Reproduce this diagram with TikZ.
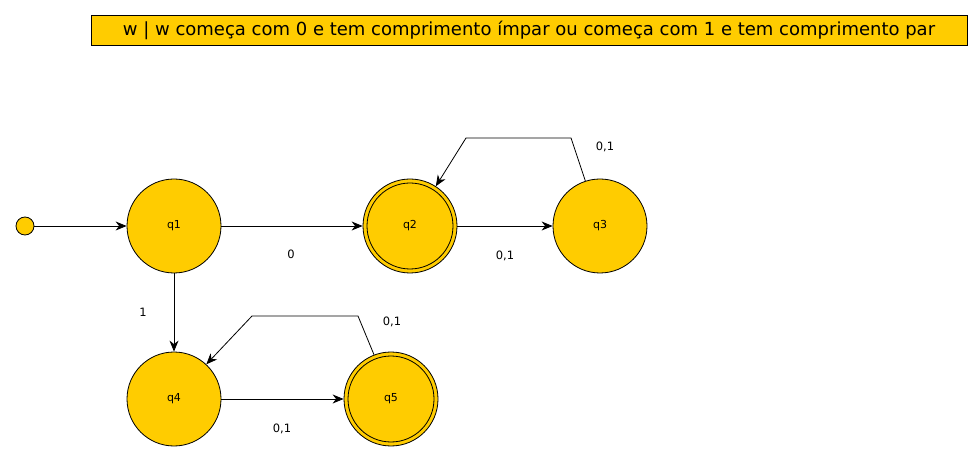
\documentclass[tikz,border=0pt]{standalone}
\usepackage{fontspec}
\setmainfont{DejaVu Sans}
\usetikzlibrary{arrows.meta}
\definecolor{gold}{HTML}{FFCC00}
\tikzset{
  state/.style={circle, draw=black, fill=gold, line width=0.8pt, minimum size=94pt, inner sep=0pt, font=\fontsize{11}{13}\selectfont},
  edge/.style={draw=black, line width=0.8pt, -{Stealth[length=11pt,width=9pt,inset=3.5pt]}},
  lbl/.style={font=\fontsize{11.5}{13}\selectfont, inner sep=0pt},
  title/.style={draw=black, fill=gold, line width=0.8pt, minimum width=876pt, minimum height=30pt, inner sep=0pt, font=\fontsize{18}{21}\selectfont}
}
\begin{document}
\begin{tikzpicture}[x=1pt,y=-1pt]
\useasboundingbox (0,0) rectangle (980,462);
\node[title] (t) at (529,30) {w | w começa com 0 e tem comprimento ímpar ou começa com 1 e tem comprimento par};
\node[circle, draw=black, fill=gold, line width=0.8pt, minimum size=18pt, inner sep=0pt] (i) at (25,226) {};
\node[state] (q1) at (174,226) {q1};
\node[state] (q2) at (410,226) {q2};
\draw[line width=0.8pt] (q2.center) circle (43);
\node[state] (q3) at (600,226) {q3};
\node[state] (q4) at (174,399) {q4};
\node[state] (q5) at (391,399) {q5};
\draw[line width=0.8pt] (q5.center) circle (43);
\coordinate (a1) at (571,138);
\coordinate (a2) at (466,138);
\coordinate (b1) at (358,316);
\coordinate (b2) at (252,316);
\draw[edge] (i) -- (q1);
\draw[edge] (q1) -- (q2);
\draw[edge] (q2) -- (q3);
\draw[edge] (q1) -- (q4);
\draw[edge] (q4) -- (q5);
\draw[edge] (q3.108.8) -- (a1) -- (a2) -- (q2.57.6);
\draw[edge] (q5.111.8) -- (b1) -- (b2) -- (q4.47.5);
\node[lbl] at (291,254) {0};
\node[lbl] at (505,256) {0,1};
\node[lbl] at (605,147) {0,1};
\node[lbl] at (143,312) {1};
\node[lbl] at (282,429) {0,1};
\node[lbl] at (392,322) {0,1};
\end{tikzpicture}
\end{document}
